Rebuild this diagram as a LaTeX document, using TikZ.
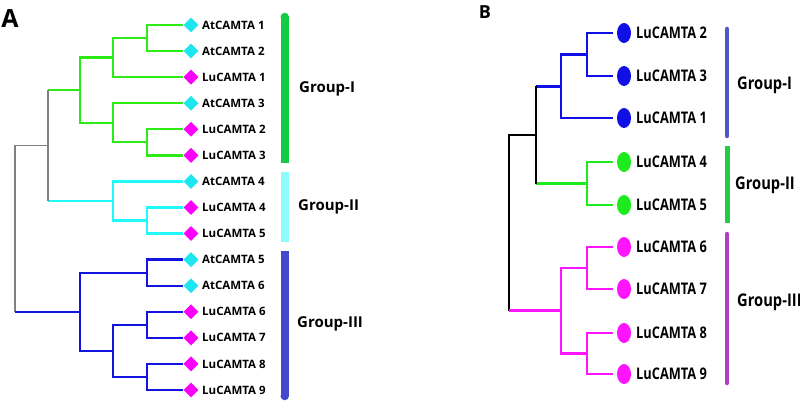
\documentclass[tikz,border=0pt]{standalone}
\usepackage{fontspec}
\setmainfont{Open Sans}
\usetikzlibrary{shapes.geometric}
\definecolor{lgreen}{RGB}{45,235,20}
\definecolor{lcyan}{RGB}{30,250,250}
\definecolor{lblue}{RGB}{20,20,225}
\definecolor{lgrey}{RGB}{128,128,128}
\definecolor{dcyan}{RGB}{30,230,240}
\definecolor{dmag}{RGB}{250,0,250}
\definecolor{barI}{RGB}{17,204,68}
\definecolor{barII}{RGB}{140,252,252}
\definecolor{barIII}{RGB}{68,70,204}
\definecolor{bblue}{RGB}{15,15,230}
\definecolor{bgreen}{RGB}{30,235,30}
\definecolor{bmag}{RGB}{255,20,255}
\definecolor{bbarI}{RGB}{80,85,200}
\definecolor{bbarII}{RGB}{34,204,68}
\definecolor{bbarIII}{RGB}{176,64,192}
\begin{document}
\begin{tikzpicture}[x=1pt,y=-1pt,
  leafA/.style={diamond, inner sep=0pt, minimum width=15pt, minimum height=15pt},
  leafB/.style={ellipse, inner sep=0pt, minimum width=14pt, minimum height=20pt, outer sep=4pt},
  labA/.style={anchor=west, inner sep=0pt, font=\bfseries\fontsize{11.5}{12}\selectfont, text height=8.2pt, text depth=0pt},
  labB/.style={anchor=west, inner sep=0pt, font=\bfseries\fontsize{16}{17}\selectfont, text height=11.5pt, text depth=0pt},
  grpA/.style={anchor=west, inner sep=0pt, font=\bfseries\fontsize{15}{16}\selectfont, text height=10.8pt, text depth=0pt},
  grpB/.style={anchor=west, inner sep=0pt, font=\bfseries\fontsize{17.5}{18}\selectfont, text height=12.6pt, text depth=0pt},
  panel/.style={anchor=center, inner sep=0pt, font=\bfseries},
  brA/.style={line width=2.3pt},
  brB/.style={line width=2.6pt}]
\useasboundingbox (0,0) rectangle (800,401);
\fill[white] (0,0) rectangle (800,401);

% ---------- Panel A ----------
\node[panel, font=\bfseries\fontsize{25}{26}\selectfont] (pA) at (10,19) {A};
\foreach \i/\n/\c in {1/AtCAMTA 1/dcyan, 2/AtCAMTA 2/dcyan, 3/LuCAMTA 1/dmag,
  4/AtCAMTA 3/dcyan, 5/LuCAMTA 2/dmag, 6/LuCAMTA 3/dmag, 7/AtCAMTA 4/dcyan,
  8/LuCAMTA 4/dmag, 9/LuCAMTA 5/dmag, 10/AtCAMTA 5/dcyan, 11/AtCAMTA 6/dcyan,
  12/LuCAMTA 6/dmag, 13/LuCAMTA 7/dmag, 14/LuCAMTA 8/dmag, 15/LuCAMTA 9/dmag} {
  \node[leafA, fill=\c] (a\i) at (191, {25+26.07*(\i-1)}) {};
  \node[labA] (ta\i) at (202, {25+26.07*(\i-1)}) {\n};
}
\coordinate (n12) at (147,38.0);
\coordinate (n3) at (113,57.6);
\coordinate (n56) at (147,142.3);
\coordinate (n4) at (113,122.8);
\coordinate (gI) at (80,90.2);
\coordinate (n89) at (147,220.5);
\coordinate (gII) at (113,201.0);
\coordinate (r1) at (48,145.6);
\coordinate (n1011) at (147,272.7);
\coordinate (n1213) at (147,324.8);
\coordinate (n1415) at (147,376.9);
\coordinate (n1215) at (113,350.9);
\coordinate (gIII) at (80,311.8);
\coordinate (r0) at (15,228.7);

\draw[brA, lgreen] (a1.west) -| (n12) |- (a2.west);
\draw[brA, lgreen] (n12) -| (n3) |- (a3.west);
\draw[brA, lgreen] (a5.west) -| (n56) |- (a6.west);
\draw[brA, lgreen] (a4.west) -| (n4) |- (n56);
\draw[brA, lgreen] (n3) -| (gI) |- (n4);
\draw[brA, lgreen] (gI) -- (gI -| r1);
\draw[brA, lcyan] (a8.west) -| (n89) |- (a9.west);
\draw[brA, lcyan] (a7.west) -| (gII) |- (n89);
\draw[brA, lcyan] (gII) -- (gII -| r1);
\draw[line width=1.2pt, lgrey] (gI -| r1) -- (gII -| r1);
\draw[line width=1.2pt, lgrey] (r1) -- (r1 -| r0) -- (gIII -| r0);
\draw[brA, lblue] (a10.west) -| (n1011) |- (a11.west);
\draw[brA, lblue] (a12.west) -| (n1213) |- (a13.west);
\draw[brA, lblue] (a14.west) -| (n1415) |- (a15.west);
\draw[brA, lblue] (n1213) -| (n1215) |- (n1415);
\draw[brA, lblue] (n1011) -| (gIII) |- (n1215);
\draw[brA, lblue] (gIII) -- (gIII -| r0);

\fill[barI] (280.5,17) rectangle (289,163);
\fill[barI] (284.75,17) circle (4.25);
\fill[barII] (280.5,172) rectangle (289,242);
\fill[barIII] (280.5,251) rectangle (289,396);
\fill[barIII] (284.75,396) circle (4.25);
\node[grpA] (gA1) at (299,87) {Group-I};
\node[grpA] (gA2) at (298,205) {Group-II};
\node[grpA] (gA3) at (297,322) {Group-III};

% ---------- Panel B ----------
\node[panel, font=\bfseries\fontsize{18}{19}\selectfont] (pB) at (485,12) {B};
\foreach \i/\n/\y/\c in {1/2/33/bblue, 2/3/76/bblue, 3/1/118/bblue,
  4/4/162/bgreen, 5/5/205/bgreen, 6/6/247/bmag, 7/7/289/bmag, 8/8/333/bmag, 9/9/374/bmag} {
  \node[leafB, fill=\c] (b\i) at (624,\y) {};
  \node[labB] (tb\i) at (636,\y) {\scalebox{0.8}[1]{LuCAMTA \n}};
}
\coordinate (m23) at (587,54.5);
\coordinate (m1) at (561,86.25);
\coordinate (m45) at (587,183.5);
\coordinate (m12) at (536,134.9);
\coordinate (m67) at (587,268);
\coordinate (m89) at (587,353.5);
\coordinate (mIII) at (561,310.75);
\coordinate (mr) at (509,222.8);

\draw[brB, bblue] (b1.west) -| (m23) |- (b2.west);
\draw[brB, bblue] (m23) -| (m1) |- (b3.west);
\draw[brB, bblue] (m1) -- (m1 -| m12);
\draw[brB, bgreen] (b4.west) -| (m45) |- (b5.west);
\draw[brB, bgreen] (m45) -- (m45 -| m12);
\draw[brB, black] (m1 -| m12) -- (m45 -| m12);
\draw[brB, black] (m12) -- (m12 -| mr) -- (mIII -| mr);
\draw[brB, bmag] (mIII) -- (mIII -| mr);
\draw[brB, bmag] (b6.west) -| (m67) |- (b7.west);
\draw[brB, bmag] (b8.west) -| (m89) |- (b9.west);
\draw[brB, bmag] (m67) -| (mIII) |- (m89);

\draw[bbarI, line width=4.5pt, line cap=round] (727,29) -- (727,136);
\draw[bbarII, line width=5pt] (727,146) -- (727,223);
\draw[bbarIII, line width=4.5pt, line cap=round] (727,234) -- (727,383);
\node[grpB] (gB1) at (737,83) {\scalebox{0.84}[1]{Group-I}};
\node[grpB] (gB2) at (735,183) {\scalebox{0.84}[1]{Group-II}};
\node[grpB] (gB3) at (737,300) {\scalebox{0.84}[1]{Group-III}};
\end{tikzpicture}
\end{document}
